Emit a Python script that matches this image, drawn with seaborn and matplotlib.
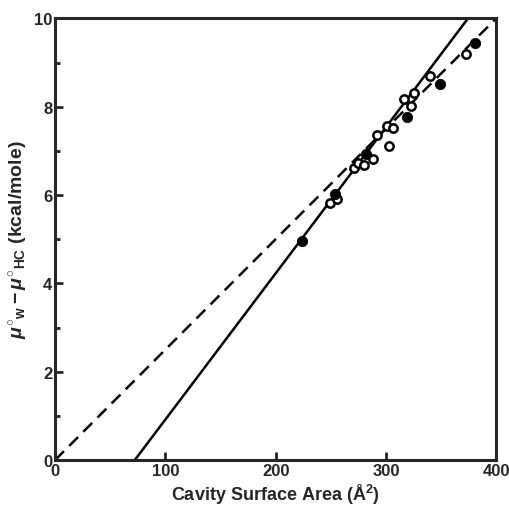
import matplotlib
matplotlib.use("Agg")
import matplotlib.pyplot as plt
import seaborn as sns
import numpy as np
import pandas as pd
from matplotlib.ticker import MultipleLocator

# cavity surface area (A^2) and transfer free energy (kcal/mole)
open_area = [249, 256, 271, 275, 280, 288, 292, 301, 306, 303, 316, 323, 325, 340, 373]
open_dg = [5.82, 5.91, 6.61, 6.72, 6.67, 6.81, 7.37, 7.56, 7.52, 7.12, 8.17, 8.01, 8.31, 8.70, 9.20]
filled_area = [224, 254, 282, 319, 349, 381]
filled_dg = [4.97, 6.02, 6.92, 7.76, 8.52, 9.45]

# fitted lines: y = slope * (x - x0)
solid_slope, solid_x0 = 0.0331, 72.3
dashed_slope, dashed_x0 = 0.025, 0.0
line_x = [0, 400]

sns.set_style("ticks")
plt.rcParams["font.family"] = ["Liberation Sans", "DejaVu Sans"]
plt.rcParams["font.weight"] = "bold"
plt.rcParams["mathtext.fontset"] = "custom"
plt.rcParams["mathtext.rm"] = "Liberation Sans:bold"
plt.rcParams["mathtext.it"] = "Liberation Sans:italic:bold"
plt.rcParams["mathtext.bf"] = "Liberation Sans:bold"

fig = plt.figure(figsize=(5.1, 5.1), dpi=100)
ax = fig.add_axes([0.108, 0.096, 0.865, 0.866])

lx = np.array(line_x, dtype=float)
solid = pd.DataFrame({"x": lx, "y": solid_slope * (lx - solid_x0)})
dashed = pd.DataFrame({"x": lx, "y": dashed_slope * (lx - dashed_x0)})
sns.lineplot(data=dashed, x="x", y="y", ax=ax, color="black", lw=1.8,
             linestyle=(0, (5, 3)), zorder=2)
sns.lineplot(data=solid, x="x", y="y", ax=ax, color="black", lw=1.8, zorder=2)

opn = pd.DataFrame({"x": open_area, "y": open_dg})
fil = pd.DataFrame({"x": filled_area, "y": filled_dg})
sns.scatterplot(data=opn, x="x", y="y", ax=ax, s=36, facecolor="white",
                edgecolor="black", linewidth=1.8, zorder=3)
sns.scatterplot(data=fil, x="x", y="y", ax=ax, s=55, color="black",
                edgecolor="black", zorder=3)

ax.set_xlim(0, 400)
ax.set_ylim(0, 10)
ax.set_xticks([0, 100, 200, 300, 400])
ax.set_yticks([0, 2, 4, 6, 8, 10])
ax.yaxis.set_minor_locator(MultipleLocator(1))
ax.tick_params(axis="both", which="major", direction="in", length=6, width=2,
               labelsize=12, pad=2)
ax.tick_params(axis="y", which="minor", direction="in", length=3.5, width=2)
for lab in ax.get_xticklabels() + ax.get_yticklabels():
    lab.set_fontweight("bold")
for sp in ax.spines.values():
    sp.set_linewidth(2.2)
    sp.set_visible(True)

ax.set_xlabel("Cavity Surface Area (Å$^2$)", fontsize=13, fontweight="bold", labelpad=3)
ax.set_ylabel(r"$\mu^{\circ}{}_{\rm w} - \mu^{\circ}{}_{\rm HC}$ (kcal/mole)",
              fontsize=14, fontweight="bold", labelpad=3)

fig.savefig("out.png", dpi=100)
